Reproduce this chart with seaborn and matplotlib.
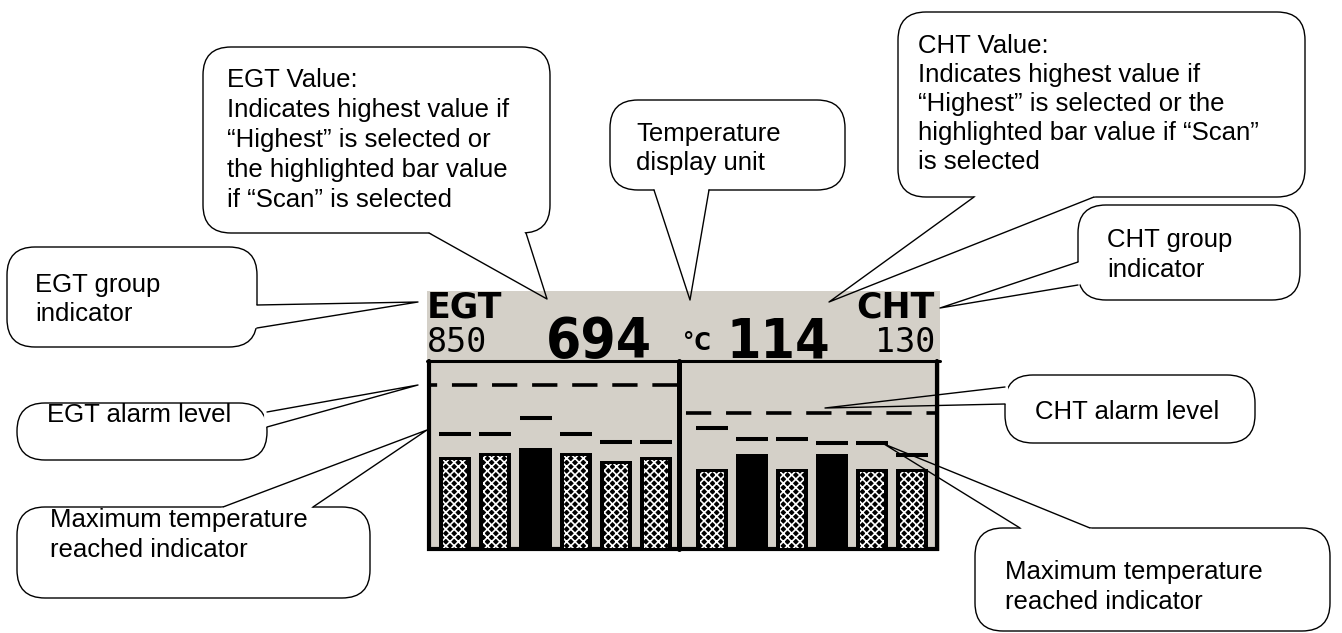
import os
import numpy as np
import pandas as pd
import matplotlib
matplotlib.use("Agg")
import matplotlib.pyplot as plt
import seaborn as sns
from matplotlib import font_manager
from matplotlib.font_manager import FontProperties
from matplotlib.patches import FancyBboxPatch, Polygon, Rectangle

# --- display data (bar heights in LCD rows above the bar floor) ---
cylinders = ["1", "2", "3", "4", "5", "6"]
egt_level = [91, 95, 100, 95, 87, 91]
egt_peak = [114, 114, 130, 114, 106, 106]
egt_alarm = 163
egt_selected = [False, False, True, False, False, False]
cht_level = [79, 94, 79, 94, 79, 79]
cht_peak = [120, 109, 109, 105, 105, 93]
cht_alarm = 135
cht_selected = [False, True, False, True, False, False]

egt_label, egt_limit, egt_value = "EGT", "850", "694"
cht_label, cht_limit, cht_value = "CHT", "130", "114"
unit_label = "°C"

# callout texts
egt_value_text = ["EGT Value:", "Indicates highest value if", "\u201cHighest\u201d is selected or",
                  "the highlighted bar value", "if \u201cScan\u201d is selected"]
unit_text = ["Temperature", "display unit"]
cht_value_text = ["CHT Value:", "Indicates highest value if", "\u201cHighest\u201d is selected or the",
                  "highlighted bar value if \u201cScan\u201d", "is selected"]
egt_group_text = ["EGT group", "indicator"]
cht_group_text = ["CHT group", "indicator"]
egt_alarm_text = ["EGT alarm level"]
cht_alarm_text = ["CHT alarm level"]
peak_text = ["Maximum temperature", "reached indicator"]

W, H = 1342, 633
LCD_GRAY = "#d4d0c8"

sns.set_theme(style="white")
plt.rcParams["font.family"] = ["Liberation Sans", "DejaVu Sans"]
plt.rcParams["text.color"] = "black"
plt.rcParams["hatch.linewidth"] = 1.2
plt.rcParams["hatch.color"] = "white"


def narrow_bold_font():
    """Pick a narrow/condensed bold face for the big LCD digits, if any is installed."""
    found = []
    for f in font_manager.fontManager.ttflist:
        base = os.path.basename(f.fname)
        if ("Narrow" in base or "Condensed" in base) and "Bold" in base:
            if not any(s in base for s in ("Extra", "Semi", "Italic", "Oblique", "Light", "Black")):
                found.append(f.fname)
    order = ["Liberation", "DejaVu", "Noto", "Roboto", "Open"]
    found.sort(key=lambda p: next((i for i, k in enumerate(order) if k in p), 99))
    if found:
        return FontProperties(fname=found[0])
    return FontProperties(family="DejaVu Sans", weight="bold")


fig = plt.figure(figsize=(W / 100, H / 100), dpi=100)
renderer = fig.canvas.get_renderer()


def px_axes(x0, y0, x1, y1, z):
    return fig.add_axes([x0 / W, 1 - y1 / H, (x1 - x0) / W, (y1 - y0) / H], zorder=z)


# background layer: LCD panel, frame and header readout
bg = px_axes(0, 0, W, H, 1)
bg.set_xlim(0, W)
bg.set_ylim(H, 0)
bg.axis("off")
bg.add_patch(Rectangle((427, 291), 513, 260, fc=LCD_GRAY, ec="none"))
bg.plot([427, 940], [361, 361], color="black", lw=2.2)
bg.plot([429, 429, 937, 937], [361, 549, 549, 361], color="black", lw=3, solid_joinstyle="miter")
bg.plot([679, 679], [361, 549], color="black", lw=3.6)

bg.text(427, 317, egt_label, family="DejaVu Sans", weight="bold", fontsize=25, ha="left")
bg.text(935, 317, cht_label, family="DejaVu Sans", weight="bold", fontsize=25, ha="right")
bg.text(427, 352, egt_limit, family="DejaVu Sans Mono", fontsize=24, ha="left")
bg.text(935, 352, cht_limit, family="DejaVu Sans Mono", fontsize=24, ha="right")

big_font = narrow_bold_font()


def fitted_readout(x, text, ha, width_px):
    t = bg.text(x, 357, text, fontproperties=big_font, fontsize=40, ha=ha)
    w = t.get_window_extent(renderer).width
    t.set_fontsize(min(40 * width_px / w, 62))
    return t


fitted_readout(546, egt_value, "left", 106)
fitted_readout(830, cht_value, "right", 104)
bg.text(683, 350, unit_label, fontproperties=big_font, fontsize=18, ha="left")


def draw_bank(a, levels, peaks, alarm, selected, xlim, dash_offset):
    df = pd.DataFrame({"cyl": cylinders, "level": levels, "peak": peaks, "sel": selected})
    sns.barplot(data=df, x="cyl", y="level", order=cylinders, color="black", saturation=1,
                width=0.8, linewidth=0, errorbar=None, ax=a)
    n = len(a.patches)
    # checkered (non-selected) bars: inner hatched area leaves a black rim
    dim = df[~df["sel"]].assign(level=lambda d: d["level"] - 3)
    sns.barplot(data=dim, x="cyl", y="level", order=cylinders, color="black", saturation=1,
                width=0.6, linewidth=0, errorbar=None, ax=a)
    for p in a.patches[n:]:
        p.set_facecolor("black")
        p.set_edgecolor("white")
        p.set_linewidth(0)
        p.set_hatch("xxxx")
    sns.pointplot(data=df, x="cyl", y="peak", order=cylinders, color="black", marker="_",
                  linestyle="none", markersize=23, markeredgewidth=2.9, errorbar=None, ax=a)
    a.axhline(alarm, color="black", lw=2.6, linestyle=(dash_offset, (7.0, 4.1)))
    a.set_xlim(*xlim)
    a.set_ylim(0, 185)
    a.axis("off")


ax_egt = px_axes(431, 363, 677, 548, 2)
draw_bank(ax_egt, egt_level, egt_peak, egt_alarm, egt_selected, (-0.6, 5.52), 5.3)
ax_cht = px_axes(682, 363, 935, 548, 2)
draw_bank(ax_cht, cht_level, cht_peak, cht_alarm, cht_selected, (-0.76, 5.57), 10.0)

# callout layer
top = px_axes(0, 0, W, H, 3)
top.set_xlim(0, W)
top.set_ylim(H, 0)
top.axis("off")
top.patch.set_alpha(0)


def bubble(box, base, tip, lines, tx, ty, step=30, r=28):
    x0, y0, x1, y1 = box
    top.add_patch(FancyBboxPatch((x0, y0), x1 - x0, y1 - y0,
                                 boxstyle=f"round,pad=0,rounding_size={r}",
                                 fc="white", ec="black", lw=1.0, zorder=3))
    (ax_, ay), (bx, by) = base
    px, py = tip
    mx, my = (ax_ + bx) / 2, (ay + by) / 2
    d = np.hypot(mx - px, my - py)
    ux, uy = (mx - px) / d, (my - py) / d
    t = 0.1
    wedge = [(ax_ + 3 * ux, ay + 3 * uy), (ax_ + t * (px - ax_), ay + t * (py - ay)),
             (bx + t * (px - bx), by + t * (py - by)), (bx + 3 * ux, by + 3 * uy)]
    top.add_patch(Polygon(wedge, closed=True, fc="white", ec="none", zorder=4))
    top.plot([ax_, px, bx], [ay, py, by], color="black", lw=1.0, zorder=5)
    for i, line in enumerate(lines):
        top.text(tx, ty + i * step + 9, line, fontsize=18.5, ha="left", zorder=6)


bubble((203, 47, 550, 233), ((429, 233), (526, 233)), (547, 299), egt_value_text, 227, 78)
bubble((610, 100, 845, 190), ((654, 190), (709, 190)), (690, 300), unit_text, 636, 132, step=29)
bubble((898, 12, 1305, 197), ((974, 197), (1094, 197)), (829, 302), cht_value_text, 918, 44, step=29)
bubble((1078, 205, 1300, 300), ((1078, 262), (1078, 285)), (940, 308), cht_group_text, 1107, 238)
bubble((7, 247, 257, 347), ((257, 305), (257, 328)), (418, 302), egt_group_text, 35, 283, step=29)
bubble((17, 403, 267, 460), ((267, 412), (267, 427)), (418, 385), egt_alarm_text, 47, 413)
bubble((1005, 375, 1255, 443), ((1005, 387), (1005, 404)), (825, 408), cht_alarm_text, 1035, 410)
bubble((17, 507, 370, 598), ((223, 507), (313, 507)), (427, 430), peak_text, 50, 518)
bubble((975, 528, 1330, 631), ((1020, 528), (1090, 528)), (884, 444), peak_text, 1005, 570)

fig.savefig("out.png", dpi=100)
